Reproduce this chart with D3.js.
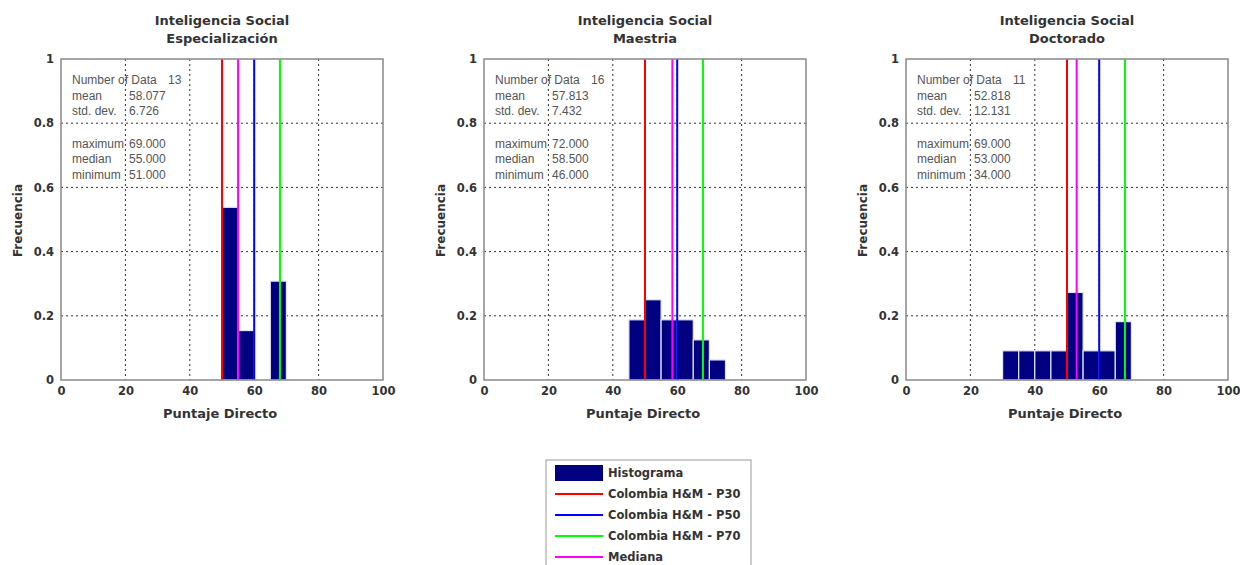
<!DOCTYPE html>
<html>
<head>
<meta charset="utf-8">
<script src="https://cdn.jsdelivr.net/npm/d3@7"></script>
<style>
  body { margin: 0; background: #fff; }
  .tick text { font-family: "DejaVu Sans", sans-serif; font-weight: bold; font-size: 11.5px; fill: #333; }
</style>
</head>
<body>
<div id="chart"></div>
<script>
var svgWidth = 1240;
var svgHeight = 565;

// data
var panelTitles = ["Especialización", "Maestria", "Doctorado"];
var binWidth = 5;
var espBins = [50, 55, 65];
var espFreq = [0.538, 0.154, 0.308];
var maeBins = [45, 50, 55, 60, 65, 70];
var maeFreq = [0.1875, 0.25, 0.1875, 0.1875, 0.125, 0.0625];
var docBins = [30, 35, 40, 45, 50, 55, 60, 65];
var docFreq = [0.0909, 0.0909, 0.0909, 0.0909, 0.2727, 0.0909, 0.0909, 0.1818];

var p30 = 50, p50 = 60, p70 = 68;
var medians = [55, 58.5, 53];

var nData = [13, 16, 11];
var means = ["58.077", "57.813", "52.818"];
var stdDevs = ["6.726", "7.432", "12.131"];
var maxs = ["69.000", "72.000", "69.000"];
var meds = ["55.000", "58.500", "53.000"];
var mins = ["51.000", "46.000", "34.000"];

var xTicks = [0, 20, 40, 60, 80, 100];
var yTicks = [0, 0.2, 0.4, 0.6, 0.8, 1];

var legendLabels = ["Histograma", "Colombia H&M - P30", "Colombia H&M - P50", "Colombia H&M - P70", "Mediana"];
var legendColors = ["#000080", "#ff0000", "#0000ff", "#00ff00", "#ff00ff"];

var bins = [espBins, maeBins, docBins];
var freqs = [espFreq, maeFreq, docFreq];

var lefts = [61, 484, 906];
var top0 = 59;
var width = 322;
var height = 321;

var svg = d3.select("#chart")
  .append("svg")
  .attr("width", svgWidth)
  .attr("height", svgHeight);

var boldFont = "DejaVu Sans, sans-serif";

lefts.forEach(function(left, i) {
  var g = svg.append("g")
    .attr("transform", `translate(${left}, ${top0})`);

  var xScale = d3.scaleLinear().domain([0, 100]).range([0, width]);
  var yScale = d3.scaleLinear().domain([0, 1]).range([height, 0]);

  // grid
  g.selectAll(".vgrid")
    .data(xTicks.slice(1, -1))
    .enter()
    .append("line")
    .attr("x1", d => xScale(d)).attr("x2", d => xScale(d))
    .attr("y1", 0).attr("y2", height)
    .attr("stroke", "#333").attr("stroke-width", 1)
    .attr("stroke-dasharray", "2,3");

  g.selectAll(".hgrid")
    .data(yTicks.slice(1, -1))
    .enter()
    .append("line")
    .attr("x1", 0).attr("x2", width)
    .attr("y1", d => yScale(d)).attr("y2", d => yScale(d))
    .attr("stroke", "#333").attr("stroke-width", 1)
    .attr("stroke-dasharray", "2,3");

  // histogram bars
  g.selectAll("rect.bar")
    .data(bins[i].map((b, k) => ({ x0: b, f: freqs[i][k] })))
    .enter()
    .append("rect")
    .attr("class", "bar")
    .attr("x", d => xScale(d.x0))
    .attr("width", d => xScale(d.x0 + binWidth) - xScale(d.x0))
    .attr("y", d => yScale(d.f))
    .attr("height", d => height - yScale(d.f))
    .attr("fill", "#000080")
    .attr("stroke", "#dfe6f5")
    .attr("stroke-width", 1.2);

  // reference lines
  var refs = [[p30, "#ff0000"], [p50, "#0000ff"], [p70, "#00ff00"], [medians[i], "#ff00ff"]];
  g.selectAll("line.ref")
    .data(refs)
    .enter()
    .append("line")
    .attr("class", "ref")
    .attr("x1", d => xScale(d[0])).attr("x2", d => xScale(d[0]))
    .attr("y1", 0).attr("y2", height)
    .attr("stroke", d => d[1])
    .attr("stroke-width", 2);

  // axes
  var bottomAxis = d3.axisBottom(xScale).tickValues(xTicks).tickSize(0).tickPadding(7);
  var leftAxis = d3.axisLeft(yScale).tickValues(yTicks).tickSize(0).tickPadding(7)
    .tickFormat(d => d === 0 ? "0" : d === 1 ? "1" : d3.format(".1f")(d));

  g.append("g")
    .attr("transform", `translate(0, ${height})`)
    .call(bottomAxis)
    .call(a => a.select(".domain").remove());

  g.append("g")
    .call(leftAxis)
    .call(a => a.select(".domain").remove());

  // box
  g.append("rect")
    .attr("width", width).attr("height", height)
    .attr("fill", "none")
    .attr("stroke", "#888").attr("stroke-width", 1.5);

  // stats text
  var stats = g.append("g")
    .attr("font-family", "Liberation Sans, Arial, sans-serif")
    .attr("font-size", 12)
    .attr("fill", "#555");
  var rows = [
    ["Number of Data", ""],
    ["mean", means[i]],
    ["std. dev.", stdDevs[i]],
    ["maximum", maxs[i]],
    ["median", meds[i]],
    ["minimum", mins[i]]
  ];
  var rowY = [25, 41, 56, 89, 104, 120];
  rows.forEach(function(r, k) {
    stats.append("text").attr("x", 11).attr("y", rowY[k]).text(r[0]);
    if (r[1]) stats.append("text").attr("x", 68).attr("y", rowY[k]).text(r[1]);
  });
  stats.append("text").attr("x", 107).attr("y", rowY[0]).text(nData[i]);

  // titles and labels
  g.append("text")
    .attr("x", width / 2).attr("y", -34)
    .attr("text-anchor", "middle")
    .attr("font-family", boldFont).attr("font-weight", "bold")
    .attr("font-size", 13).attr("fill", "#333")
    .text("Inteligencia Social");
  g.append("text")
    .attr("x", width / 2).attr("y", -16)
    .attr("text-anchor", "middle")
    .attr("font-family", boldFont).attr("font-weight", "bold")
    .attr("font-size", 13).attr("fill", "#333")
    .text(panelTitles[i]);

  g.append("text")
    .attr("x", width / 2 - 2).attr("y", height + 38)
    .attr("text-anchor", "middle")
    .attr("font-family", boldFont).attr("font-weight", "bold")
    .attr("font-size", 13).attr("fill", "#333")
    .text("Puntaje Directo");

  g.append("text")
    .attr("transform", "rotate(-90)")
    .attr("x", -height / 2 - 1).attr("y", -39)
    .attr("text-anchor", "middle")
    .attr("font-family", boldFont).attr("font-weight", "bold")
    .attr("font-size", 12).attr("fill", "#333")
    .text("Frecuencia");
});

// legend
var legend = svg.append("g").attr("transform", "translate(546, 460)");
legend.append("rect")
  .attr("width", 205).attr("height", 120)
  .attr("fill", "#fff")
  .attr("stroke", "#999").attr("stroke-width", 1);

var legendY = d3.scalePoint().domain(legendLabels).range([13, 97]);

legendLabels.forEach(function(lab, k) {
  var cy = legendY(lab);
  if (k === 0) {
    legend.append("rect")
      .attr("x", 9).attr("y", cy - 8)
      .attr("width", 48).attr("height", 16)
      .attr("fill", legendColors[k]);
  } else {
    legend.append("line")
      .attr("x1", 9).attr("x2", 57)
      .attr("y1", cy).attr("y2", cy)
      .attr("stroke", legendColors[k]).attr("stroke-width", 2);
  }
  legend.append("text")
    .attr("x", 62).attr("y", cy + 4)
    .attr("font-family", boldFont).attr("font-weight", "bold")
    .attr("font-size", 11.5).attr("fill", "#333")
    .text(lab);
});
</script>
</body>
</html>
